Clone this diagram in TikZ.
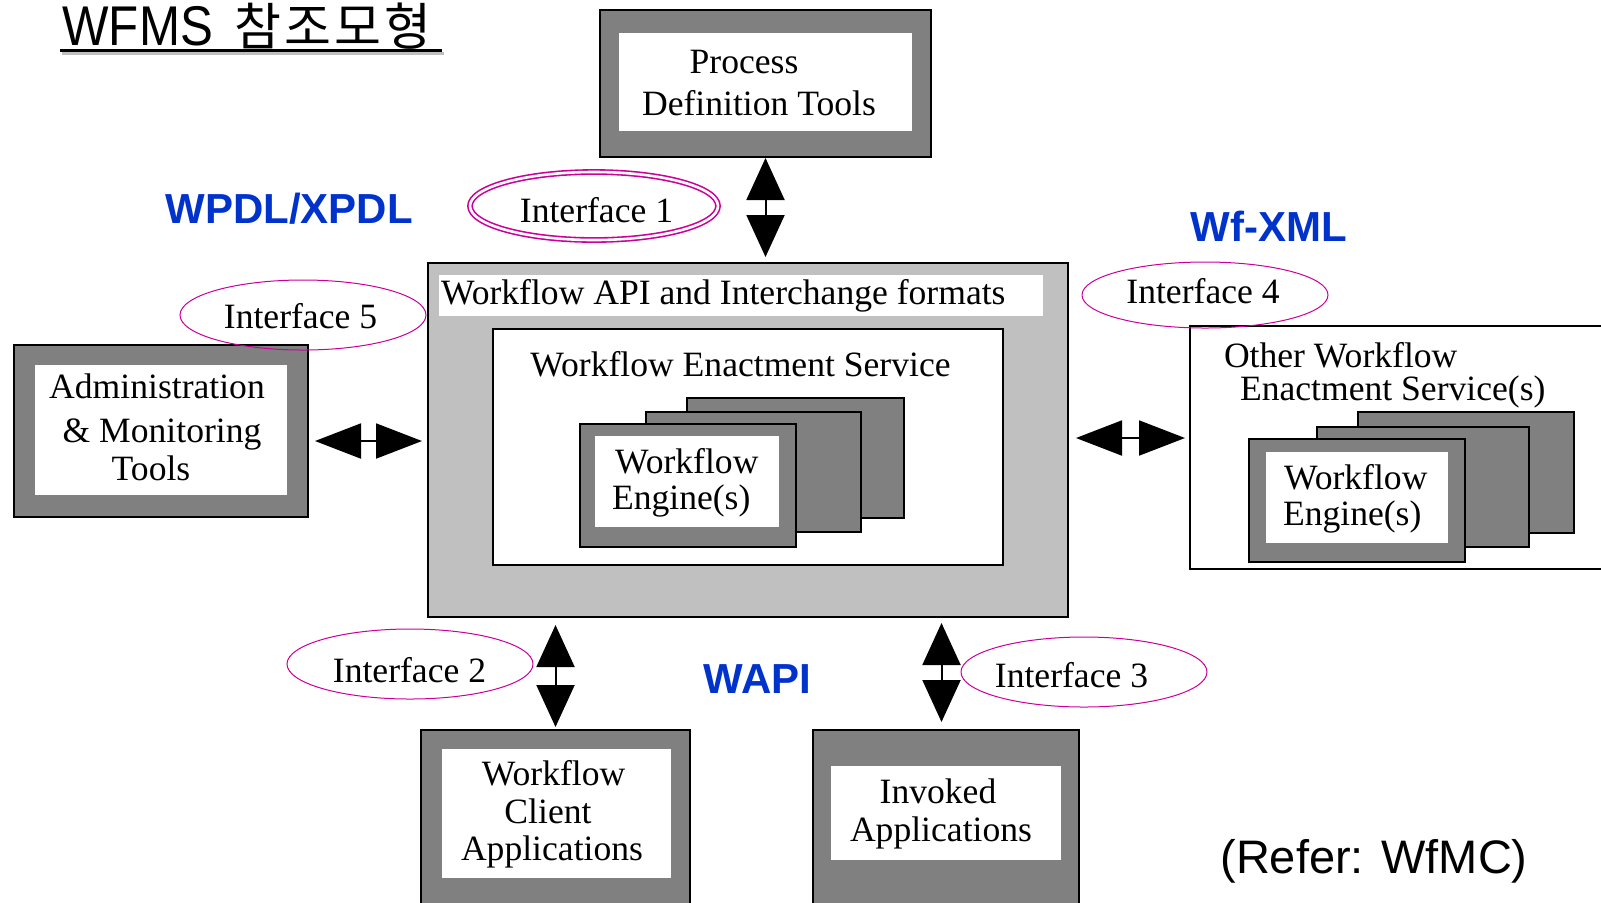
\documentclass[tikz,border=0pt]{standalone}
\usepackage{fontspec}
\setmainfont{Liberation Serif}
\setsansfont{Liberation Sans}
\newfontfamily\krfont{Noto Sans CJK KR}
\newfontfamily\latsans{Liberation Sans}
\usetikzlibrary{arrows.meta,shapes.geometric}
\definecolor{boxgray}{RGB}{128,128,128}
\definecolor{apigray}{RGB}{192,192,192}
\definecolor{ellmag}{RGB}{204,0,153}
\definecolor{lblblue}{RGB}{0,51,204}
\newcommand{\pxbox}[6]{\node[#2, minimum width={(#5-#3)*0.5pt}, minimum height={(#6-#4)*0.5pt}] (#1) at ({(#3+#5)/2},{(#4+#6)/2}) {};}
\begin{document}
\begin{tikzpicture}[x=0.5pt,y=-0.5pt,
  darkbox/.style={rectangle, draw=black, line width=1pt, fill=boxgray, inner sep=0pt, outer sep=0pt},
  innerwhite/.style={rectangle, fill=white, inner sep=0pt, outer sep=0pt},
  wbox/.style={rectangle, draw=black, line width=1pt, fill=white, inner sep=0pt, outer sep=0pt},
  thinwbox/.style={rectangle, draw=black, line width=0.8pt, fill=white, inner sep=0pt, outer sep=0pt},
  apibox/.style={rectangle, draw=black, line width=1pt, fill=apigray, inner sep=0pt, outer sep=0pt},
  ell/.style={ellipse, draw=ellmag, line width=0.5pt, inner sep=0pt, outer sep=0pt},
  dell/.style={ellipse, draw=ellmag, line width=0.8pt, double=white, double distance=1.3pt, inner sep=0pt, outer sep=0pt},
  dt/.style={font=\fontsize{17.8pt}{21pt}\selectfont, inner sep=0pt, outer sep=0pt, text=black},
  blue/.style={font=\fontsize{21pt}{25pt}\selectfont\sffamily\bfseries, text=lblblue, inner sep=0pt, anchor=base west},
  varrow/.style={line width=1pt, {Triangle[length=21pt,width=19pt]}-{Triangle[length=21pt,width=19pt]}},
  harrow/.style={line width=1pt, {Triangle[length=23pt,width=17.5pt]}-{Triangle[length=23pt,width=17.5pt]}}
]
\useasboundingbox (0,0) rectangle (1601,902);
\clip (0,0) rectangle (1601,902);
\fill[white] (0,0) rectangle (1601,902);

% Process Definition Tools
\pxbox{pdt}{darkbox}{600}{10}{931}{157}
\pxbox{pdtin}{innerwhite}{619}{33}{912}{131}

% Workflow API box
\pxbox{api}{apibox}{428}{263}{1068}{617}
\pxbox{apilbl}{innerwhite}{439}{275}{1043}{316}
\pxbox{wes}{wbox}{493}{329}{1003}{565}

% engines (left)
\pxbox{le3}{darkbox}{687}{398}{904}{518}
\pxbox{le2}{darkbox}{646}{412}{861}{532}
\pxbox{le1}{darkbox}{580}{424}{796}{547}
\pxbox{le1in}{innerwhite}{595}{436}{779}{527}

% Admin
\pxbox{adm}{darkbox}{14}{345}{308}{517}
\pxbox{admin}{innerwhite}{35}{365}{287}{495}

% Other WES
\pxbox{owes}{thinwbox}{1190}{326}{1630}{569}
\pxbox{re3}{darkbox}{1358}{412}{1574}{533}
\pxbox{re2}{darkbox}{1317}{427}{1529}{547}
\pxbox{re1}{darkbox}{1249}{439}{1465}{562}
\pxbox{re1in}{innerwhite}{1266}{452}{1448}{543}

% bottom boxes
\pxbox{wca}{darkbox}{421}{730}{690}{930}
\pxbox{wcain}{innerwhite}{442}{749}{671}{878}
\pxbox{inv}{darkbox}{813}{730}{1079}{930}
\pxbox{invin}{innerwhite}{831}{766}{1061}{860}

% ellipses
\pxbox{if1}{dell}{470}{172}{718}{240}
\pxbox{if5}{ell}{180}{280}{426}{350}
\pxbox{if4}{ell}{1082}{262}{1328}{328}
\pxbox{if2}{ell}{287}{629}{533}{699}
\pxbox{if3}{ell}{961}{637}{1207}{707}

% texts
\node[dt, anchor=base] (tpdt1) at (744,73) {Process};
\node[dt, anchor=base] (tpdt2) at (759,115) {Definition Tools};
\node[dt, anchor=base west] (tapi) at (441,304) {Workflow API and Interchange formats};
\node[dt, anchor=base] (twes) at (740.5,376) {Workflow Enactment Service};
\node[dt, anchor=base west] (twe1) at (615,473) {Workflow};
\node[dt, anchor=base west] (twe2) at (612,509) {Engine(s)};
\node[dt, anchor=base] (tadm1) at (157,398) {Administration};
\node[dt, anchor=base] (tadm2) at (162,442) {\& Monitoring};
\node[dt, anchor=base] (tadm3) at (151,480) {Tools};
\node[dt, anchor=base west] (tow1) at (1224,367) {Other Workflow};
\node[dt, anchor=base west] (tow2) at (1240,400) {Enactment Service(s)};
\node[dt, anchor=base west] (tre1) at (1284,489) {Workflow};
\node[dt, anchor=base west] (tre2) at (1283,525) {Engine(s)};
\node[dt, anchor=base] (twc1) at (553.6,785) {Workflow};
\node[dt, anchor=base] (twc2) at (548,823) {Client};
\node[dt, anchor=base] (twc3) at (552,860) {Applications};
\node[dt, anchor=base] (tinv1) at (938,803) {Invoked};
\node[dt, anchor=base] (tinv2) at (941,841) {Applications};
\node[dt, anchor=base] (tif1) at (596.5,222) {Interface 1};
\node[dt, anchor=base] (tif5) at (300.5,328) {Interface 5};
\node[dt, anchor=base] (tif4) at (1203,303) {Interface 4};
\node[dt, anchor=base] (tif2) at (409.5,682) {Interface 2};
\node[dt, anchor=base] (tif3) at (1071.5,687) {Interface 3};

% blue labels
\node[blue] (lwpdl) at (165,223) {WPDL/XPDL};
\node[blue] (lwfxml) at (1190,241) {Wf-XML};
\node[blue] (lwapi) at (703.5,693) {WAPI};

% title and reference
\draw[line width=1.5pt, black!25] (62,53) -- (444,53);
\draw[line width=1.5pt] (60,50) -- (442,50);
\node[inner sep=0pt, anchor=base west] (title) at (62,45)
  {\latsans\fontsize{28pt}{32pt}\selectfont\scalebox{0.88}[1]{WFMS}\hspace{11pt}{\krfont\fontsize{25.5pt}{30pt}\selectfont 참\hspace{1.5pt}조\hspace{1.5pt}모\hspace{1.5pt}형}};
\node[font=\latsans\fontsize{23.5pt}{28pt}\selectfont, inner sep=0pt, anchor=base west] (refer) at (1220,873) {(Refer: WfMC)};

% arrows
\draw[varrow, shorten <=0.5pt, shorten >=3pt] (pdt.south) -- (pdt.south |- api.north);
\draw[varrow, shorten <=4pt, shorten >=1.5pt] (wca.north |- api.south) -- (wca.north);
\coordinate (a3top) at (941.5,617);
\coordinate (a3bot) at (941.5,730);
\draw[varrow, shorten <=3pt, shorten >=4pt] (a3top) -- (a3bot);
\coordinate (a5l) at (adm.east |- 0,441);
\coordinate (a5r) at (api.west |- 0,441);
\draw[harrow, shorten <=3.5pt, shorten >=3pt] (a5l) -- (a5r);
\coordinate (a4l) at (api.east |- 0,438);
\coordinate (a4r) at (owes.west |- 0,438);
\draw[harrow, shorten <=4pt, shorten >=2.5pt] (a4l) -- (a4r);
\end{tikzpicture}
\end{document}
